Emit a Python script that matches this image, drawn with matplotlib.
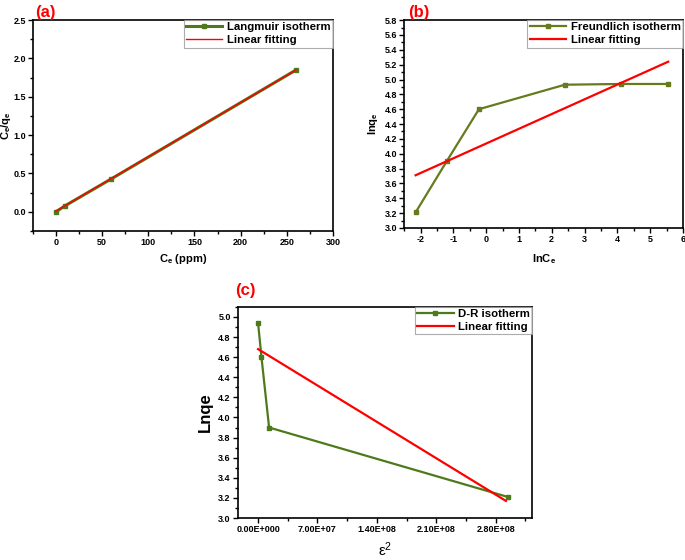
import matplotlib
matplotlib.use("Agg")
import matplotlib.pyplot as plt
from matplotlib.ticker import MultipleLocator, AutoMinorLocator, FuncFormatter

plt.rcParams['font.family'] = ['Liberation Sans', 'DejaVu Sans']
plt.rcParams['font.weight'] = 'bold'
plt.rcParams['mathtext.fontset'] = 'custom'
plt.rcParams['mathtext.bf'] = 'Liberation Sans:bold'
plt.rcParams['mathtext.rm'] = 'Liberation Sans'
plt.rcParams['mathtext.default'] = 'bf'
plt.rcParams['axes.unicode_minus'] = False

GREEN = '#4d7a1a'
OLIVE = '#667a1e'
RED = '#ff0000'

# (a) Langmuir
ce_a = [0, 10, 60, 260]
ceqe_a = [0.0, 0.08, 0.43, 1.85]
fit_a_x = [0, 260]
fit_a_y = [0.01, 1.85]

# (b) Freundlich
lnce_b = [-2.15, -1.2, -0.22, 2.4, 4.1, 5.55]
lnqe_b = [3.21, 3.90, 4.60, 4.93, 4.94, 4.94]
fit_b_x = [-2.15, 5.55]
fit_b_y = [3.71, 5.24]

# (c) D-R
eps2_c = [0, 4.0e6, 1.3e7, 2.94e8]
lnqe_c = [4.94, 4.60, 3.90, 3.21]
fit_c_x = [0, 2.92e8]
fit_c_y = [4.68, 3.17]

fig = plt.figure(figsize=(6.85, 5.6), dpi=100)


def style(ax, fs=6.5):
    for s in ax.spines.values():
        s.set_linewidth(1.2)
    ax.tick_params(which='both', direction='out', top=False, right=False,
                   labelsize=fs, width=1.0, pad=1.5)
    ax.tick_params(which='major', length=3.5)
    ax.tick_params(which='minor', length=2)
    for lab in ax.get_xticklabels() + ax.get_yticklabels():
        lab.set_fontweight('bold')


def legend(ax, fs=8.2):
    leg = ax.legend(loc='upper right', fontsize=fs, frameon=True, fancybox=False,
                    borderpad=0.2, handlelength=3.2, labelspacing=0.25,
                    borderaxespad=0.0, handletextpad=0.4)
    leg.get_frame().set_edgecolor('#999999')
    leg.get_frame().set_linewidth(0.8)
    for t in leg.get_texts():
        t.set_fontweight('bold')


# panel (a)
ax1 = fig.add_axes([0.048, 0.5875, 0.438, 0.3765])
ax1.plot(ce_a, ceqe_a, color=GREEN, lw=2.2, marker='s', ms=3.5,
         label='Langmuir isotherm')
ax1.plot(fit_a_x, fit_a_y, color=RED, lw=1.0, label='Linear fitting')
ax1.set_xlim(-25, 300)
ax1.set_ylim(-0.25, 2.5)
ax1.xaxis.set_major_locator(MultipleLocator(50))
ax1.xaxis.set_minor_locator(AutoMinorLocator(2))
ax1.yaxis.set_major_locator(MultipleLocator(0.5))
ax1.yaxis.set_minor_locator(AutoMinorLocator(2))
ax1.set_xlabel('C$_e$ (ppm)', fontsize=8, fontweight='bold', labelpad=4)
ax1.set_ylabel('C$_e$/q$_e$', fontsize=8, fontweight='bold', labelpad=0)
style(ax1)
legend(ax1)
fig.text(0.051, 0.969, '(a)', color=RED, fontsize=12, fontweight='bold')

# panel (b)
ax2 = fig.add_axes([0.590, 0.593, 0.407, 0.371])
ax2.plot(lnce_b, lnqe_b, color=OLIVE, lw=1.6, marker='s', ms=3.5,
         label='Freundlich isotherm')
ax2.plot(fit_b_x, fit_b_y, color=RED, lw=1.6, label='Linear fitting')
ax2.set_xlim(-2.5, 6)
ax2.set_ylim(3.0, 5.8)
ax2.xaxis.set_major_locator(MultipleLocator(1))
ax2.xaxis.set_minor_locator(AutoMinorLocator(2))
ax2.yaxis.set_major_locator(MultipleLocator(0.2))
ax2.yaxis.set_minor_locator(AutoMinorLocator(2))
ax2.set_xlabel('lnC$_e$', fontsize=8, fontweight='bold', labelpad=6)
ax2.set_ylabel('lnq$_e$', fontsize=8, fontweight='bold', labelpad=3)
style(ax2)
legend(ax2)
fig.text(0.596, 0.969, '(b)', color=RED, fontsize=12, fontweight='bold')

# panel (c)
ax3 = fig.add_axes([0.347, 0.075, 0.430, 0.377])
ax3.plot(eps2_c, lnqe_c, color=GREEN, lw=1.6, marker='s', ms=3.5,
         label='D-R isotherm')
ax3.plot(fit_c_x, fit_c_y, color=RED, lw=1.6, label='Linear fitting')
ax3.set_xlim(-2.4e7, 3.23e8)
ax3.set_ylim(3.0, 5.1)
ax3.xaxis.set_major_locator(MultipleLocator(7e7))
ax3.xaxis.set_minor_locator(AutoMinorLocator(2))
ax3.xaxis.set_major_formatter(FuncFormatter(
    lambda v, p: ('%.2E' % v).replace('E+0', 'E+00') if v == 0 else '%.2E' % v))
ax3.yaxis.set_major_locator(MultipleLocator(0.2))
ax3.yaxis.set_minor_locator(AutoMinorLocator(2))
ax3.set_xlabel('$\\mathregular{\\epsilon^2}$', fontsize=11, fontweight='normal',
               labelpad=5)
ax3.set_ylabel('Lnqe', fontsize=12, fontweight='bold', labelpad=4)
style(ax3)
legend(ax3)
fig.text(0.343, 0.473, '(c)', color=RED, fontsize=12, fontweight='bold')

fig.savefig('out.png', dpi=100)
